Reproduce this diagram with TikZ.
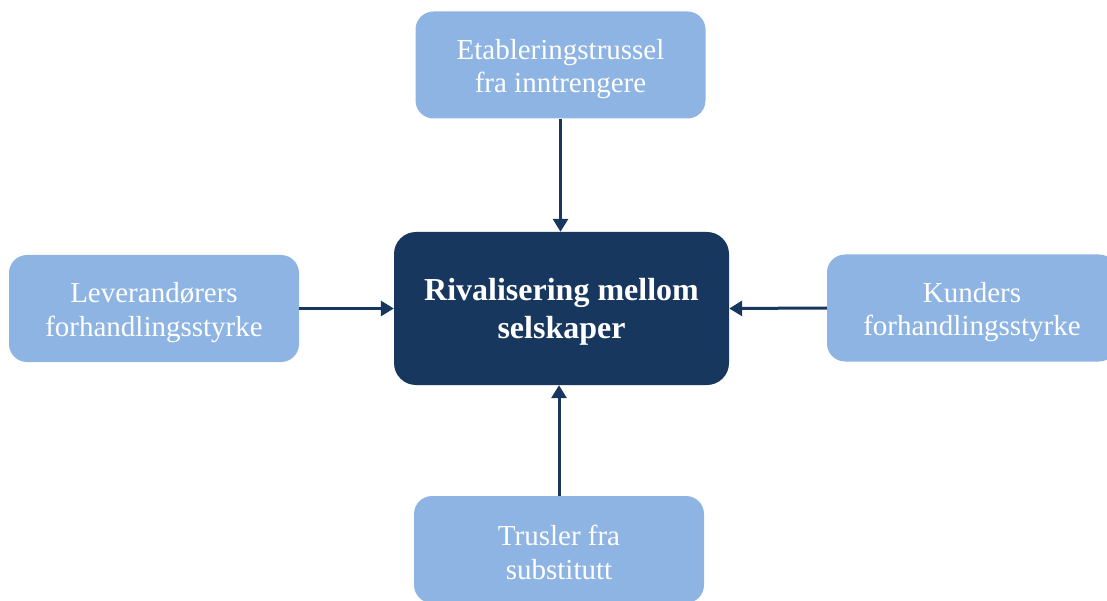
\documentclass[tikz,border=0pt]{standalone}
\usepackage{fontspec}
\setmainfont{Liberation Serif}
\usetikzlibrary{arrows.meta}
\definecolor{forceblue}{HTML}{8EB4E3}
\definecolor{coreblue}{HTML}{17375E}
\begin{document}
\begin{tikzpicture}[x=1pt,y=-1pt,
  force/.style={rectangle, rounded corners=18pt, fill=forceblue,
    minimum width=290pt, minimum height=107pt, inner sep=0pt},
  forcetext/.style={text=white, align=center, inner sep=0pt,
    font=\fontsize{29}{33.5}\selectfont},
  core/.style={rectangle, rounded corners=22pt, fill=coreblue,
    minimum width=335pt, minimum height=153pt, inner sep=0pt},
  coretext/.style={text=white, align=center, inner sep=0pt,
    font=\fontsize{32}{37.5}\selectfont\bfseries},
  push/.style={draw=coreblue, line width=3pt, -{Triangle[length=13pt,width=15pt]}}]
\useasboundingbox (0,0) rectangle (1107,601);
\clip (0,0) rectangle (1107,601);
% boxes
\node[core] (rival) at (561.5,308.5) {};
\node[force] (entry) at (560.5,65) {};
\node[force] (supplier) at (154,308.5) {};
\node[force] (buyer) at (972,308) {};
\node[force] (subst) at (559,549.5) {};
% labels
\node[coretext] (rivaltxt) at ([yshift=-3.5pt]rival.center) {Rivalisering mellom\\selskaper};
\node[forcetext] (entrytxt) at ([yshift=-4pt]entry.center) {Etableringstrussel\\fra inntrengere};
\node[forcetext] (suppliertxt) at ([yshift=-4pt]supplier.center) {Leverandørers\\forhandlingsstyrke};
\node[forcetext] (buyertxt) at ([yshift=-4pt]buyer.center) {Kunders\\forhandlingsstyrke};
\node[forcetext] (substtxt) at ([yshift=-3pt]subst.center) {Trusler fra\\substitutt};
% forces acting on the rivalry
\draw[push] (entry.south) -- (entry.south |- rival.north);
\draw[push] (supplier.east) -- (rival.west);
\draw[push] (buyer.west) -- (rival.east);
\draw[push] (subst.north) -- (subst.north |- rival.south);
\end{tikzpicture}
\end{document}
